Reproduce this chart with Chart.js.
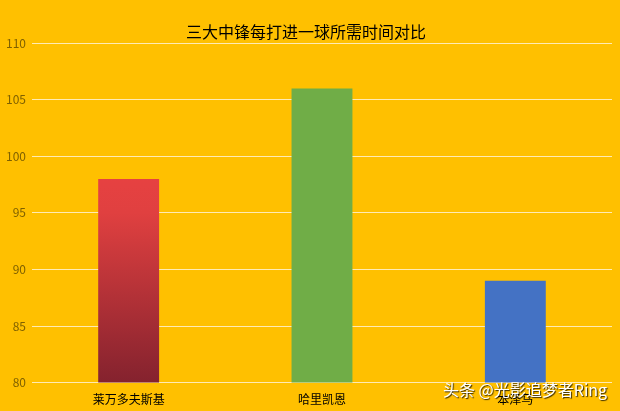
<!DOCTYPE html>
<html>
<head>
<meta charset="utf-8">
<script src="https://cdn.jsdelivr.net/npm/chart.js@4/dist/chart.umd.min.js"></script>
<style>
  html, body { margin: 0; padding: 0; background: #FFC000; }
  #wrap { width: 620px; height: 411px; }
</style>
</head>
<body>
<div id="wrap"><canvas id="myChart" width="620" height="411"></canvas></div>
<script>
const players = ["莱万多夫斯基", "哈里凯恩", "本泽马"];
const minutesPerGoal = [98, 106, 89];
const barColors = [null, "#70AD47", "#4472C4"];

// red bar fades from bright red to dark red
function barFill(context) {
  const chart = context.chart;
  const i = context.dataIndex;
  if (barColors[i]) return barColors[i];
  const area = chart.chartArea;
  if (!area) return "#E04040";
  const g = chart.ctx.createLinearGradient(0, area.top, 0, area.bottom);
  g.addColorStop(0, "#FF4646");
  g.addColorStop(0.5, "#E04040");
  g.addColorStop(1, "#84222E");
  return g;
}

const watermark = {
  id: "watermark",
  afterDraw(chart) {
    const ctx = chart.ctx;
    ctx.save();
    ctx.font = "16px 'Noto Sans CJK SC', sans-serif";
    ctx.textBaseline = "middle";
    ctx.shadowColor = "rgba(0,0,0,0.8)";
    ctx.shadowOffsetX = 1;
    ctx.shadowOffsetY = 1;
    ctx.shadowBlur = 1;
    ctx.fillStyle = "#ffffff";
    ctx.fillText("头条 @光影追梦者Ring", 443, 390);
    ctx.restore();
  }
};

const ctx = document.getElementById("myChart").getContext("2d");
const myChart = new Chart(ctx, {
  type: "bar",
  data: {
    labels: players,
    datasets: [{
      label: "每球所需时间",
      data: minutesPerGoal,
      backgroundColor: barFill,
      borderWidth: 0,
      categoryPercentage: 1,
      barPercentage: 0.315,
    }],
  },
  options: {
    responsive: false,
    animation: false,
    layout: { padding: { left: 0, right: 8, bottom: 2 } },
    scales: {
      x: {
        grid: { display: false },
        border: { display: false },
        ticks: {
          color: "#000000",
          padding: 2,
          font: { size: 12, family: "'Noto Sans CJK SC', sans-serif" },
        },
      },
      y: {
        min: 80,
        max: 110,
        ticks: {
          stepSize: 5,
          color: "#7F6000",
          padding: 6,
          font: { size: 12, family: "'Noto Sans CJK SC', sans-serif" },
        },
        grid: { color: "rgba(255,240,200,0.9)", lineWidth: 1, drawTicks: false },
        border: { display: false },
      },
    },
    plugins: {
      legend: { display: false },
      tooltip: { enabled: false },
      title: {
        display: true,
        text: "三大中锋每打进一球所需时间对比",
        color: "#000000",
        padding: { top: 22, bottom: 2 },
        font: { size: 16, weight: "normal", family: "'Noto Sans CJK SC', sans-serif" },
      },
    },
  },
  plugins: [watermark],
});
</script>
</body>
</html>
